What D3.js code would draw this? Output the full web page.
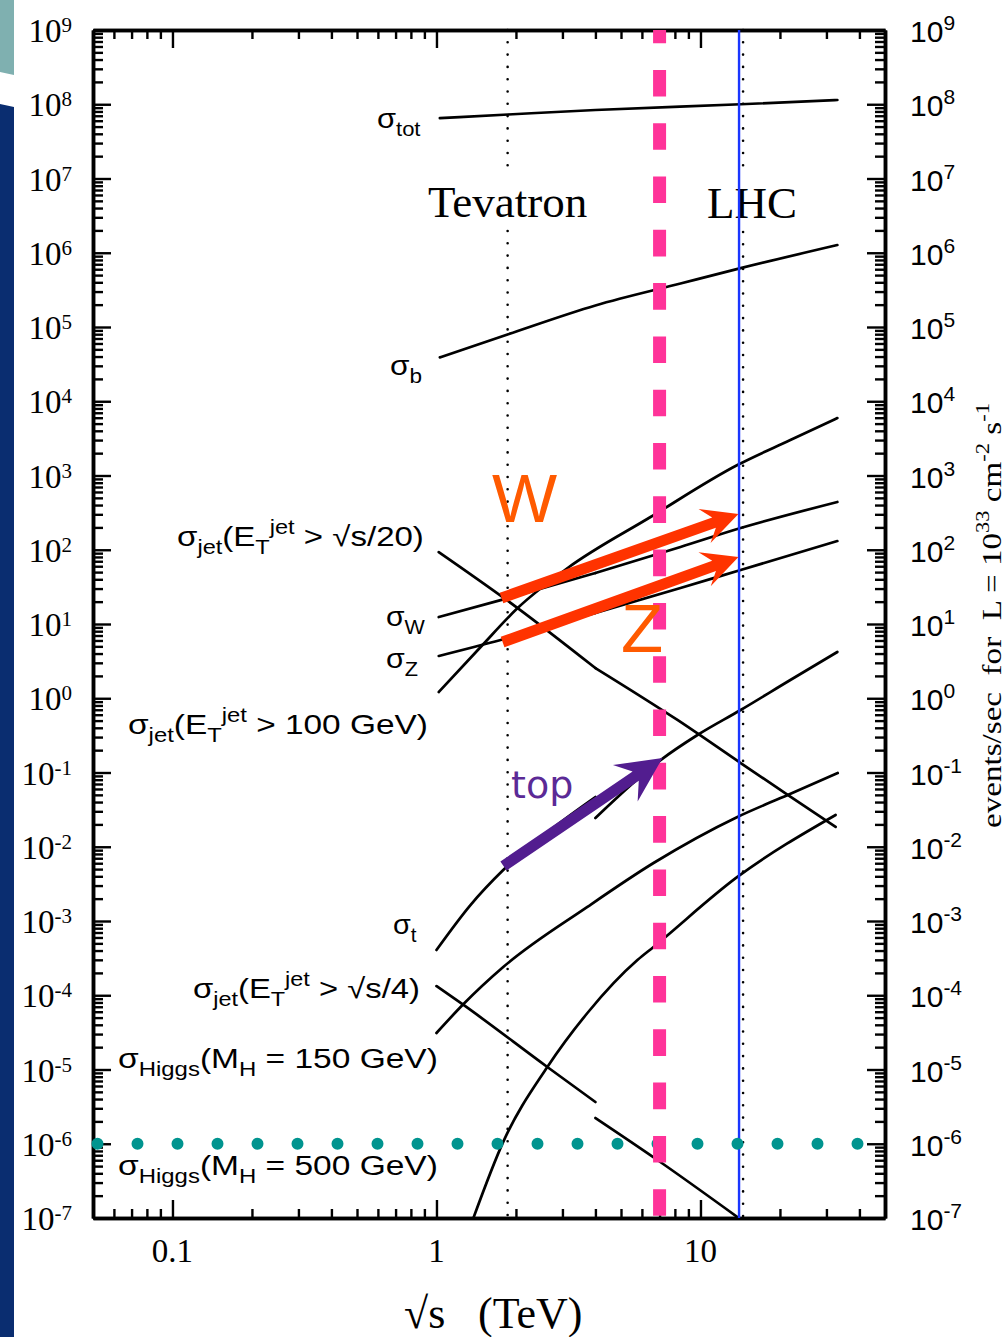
<!DOCTYPE html>
<html><head><meta charset="utf-8">
<script src="https://cdn.jsdelivr.net/npm/d3@7"></script>
<style>
html,body{margin:0;padding:0;background:#fff;}
svg{display:block;}
text{white-space:pre;}
</style></head><body>
<svg id="c" width="1008" height="1337"></svg>
<script>
// ---------------- DATA (sqrt(s) in TeV, sigma in nb) ----------------
const xDomain = [0.05, 50];
const yDomain = [1e-7, 1e9];
const yExponents = d3.range(-7, 10);
const xMajorTicks = [0.1, 1, 10];
const xTickLabels = ["0.1", "1", "10"];

const sTot = [1.03, 1.87, 4, 14.2, 33];
const sigTot = [6.5e7, 7.28e7, 8.37e7, 1.0e8, 1.14e8];

const sB = [1.03, 1.87, 4, 8.4, 14.2, 33];
const sigB = [3.9e4, 8.0e4, 1.95e5, 3.85e5, 6.2e5, 1.27e6];

const sJet20ppbar = [1.02, 2.03, 4];
const sigJet20ppbar = [93, 16.4, 2.55];
const sJet20pp = [4, 8.18, 14.2, 21.4, 32.5];
const sigJet20pp = [2.55, 0.51, 0.134, 0.050, 0.0185];

const sWppbar = [1.02, 1.75, 4];
const sigWppbar = [12.4, 21.0, 48.6];
const sWpp = [4, 8.4, 14.2, 33];
const sigWpp = [48.6, 109, 196, 440];

const sZppbar = [1.02, 1.75, 4];
const sigZppbar = [3.71, 6.09, 14.1];
const sZpp = [4, 8.4, 14.2, 33];
const sigZpp = [14.1, 30.5, 53.4, 131];

const sJet100 = [1.02, 1.47, 2.03, 3.14, 6.47, 13.8, 21.9, 33];
const sigJet100 = [1.21, 4.9, 16.4, 56.8, 276, 1384, 3006, 5943];

const sTopPpbar = [1.0, 1.345, 1.79, 2.7, 4];
const sigTopPpbar = [4.07e-4, 1.64e-3, 4.86e-3, 0.0168, 0.0468];
const sTopPp = [4, 7.06, 9.74, 14.2, 21.9, 33];
const sigTopPp = [0.0244, 0.147, 0.32, 0.695, 1.76, 4.2];

const sJet4ppbar = [1.0, 1.266, 2.63, 4];
const sigJet4ppbar = [1.33e-4, 7.4e-5, 1.08e-5, 3.65e-6];
const sJet4pp = [4, 6.87, 13.8];
const sigJet4pp = [2.22e-6, 6.04e-7, 1.03e-7];

const sH150 = [1.0, 1.266, 1.79, 3.73, 6.64, 13.8, 21.4, 33.1];
const sigH150 = [3.1e-5, 7.62e-5, 2.4e-4, 1.55e-3, 6.04e-3, 0.0252, 0.0498, 0.0984];

const sH500 = [1.38, 1.79, 2.63, 3.73, 5.77, 6.64, 13.8, 32.5];
const sigH500 = [1.0e-7, 1.06e-6, 1.08e-5, 5.77e-5, 2.98e-4, 4.47e-4, 3.92e-3, 0.0268];

// reference energies (TeV)
const tevatronEnergy = 1.86;
const lhcEnergy = 14.5;
const lhcDesign = 14;
const lhcRun = 7;
// 1 event/sec level at L=1e33 -> dotted line
const rateLine = 1e-6;
const rateLineX = [0.052, 39.6];

// arrows [sqrt(s), sigma]
const arrowW = [[1.763, 22.4], [13.93, 303]];
const arrowZ = [[1.78, 5.72], [13.93, 79.8]];
const arrowTop = [[1.794, 5.5e-3], [7.18, 0.157]];

// label texts
const labTot = [["σ","n"],["tot","sub"]];
const labB = [["σ","n"],["b","sub"]];
const labJet20 = [["σ","n"],["jet","sub"],["(E","n"],["T","sub"],["jet","sup"],[" > √s/20)","n"]];
const labW = [["σ","n"],["W","sub"]];
const labZ = [["σ","n"],["Z","sub"]];
const labJet100 = [["σ","n"],["jet","sub"],["(E","n"],["T","sub"],["jet","sup"],[" > 100 GeV)","n"]];
const labT = [["σ","n"],["t","sub"]];
const labJet4 = [["σ","n"],["jet","sub"],["(E","n"],["T","sub"],["jet","sup"],[" > √s/4)","n"]];
const labH150 = [["σ","n"],["Higgs","sub"],["(M","n"],["H","sub"],[" = 150 GeV)","n"]];
const labH500 = [["σ","n"],["Higgs","sub"],["(M","n"],["H","sub"],[" = 500 GeV)","n"]];
const rightTitle = [["events/sec  for  L = 10","n"],["33","sup"],[" cm","n"],["-2","sup"],[" s","n"],["-1","sup"]];

// ---------------- DRAW ----------------
const svg = d3.select("#c");
const X0 = 93, X1 = 885, Y0 = 1218, Y1 = 30;
const x = d3.scaleLog().domain(xDomain).range([X0, X1]);
const y = d3.scaleLog().domain(yDomain).range([Y0, Y1]);

// side decoration
svg.append("polygon").attr("points", "0,0 14,0 14,75 0,72").attr("fill", "#7fb0b0");
svg.append("polygon").attr("points", "0,104 14,107 14,1337 0,1337").attr("fill", "#0a2d70");

// ticks
const yMajor = yExponents.map(e => Math.pow(10, e));
const yMinor = [];
for (let e = -7; e < 9; e++) for (let m = 2; m <= 9; m++) yMinor.push(m * Math.pow(10, e));
const xMinor = [];
for (let e = -2; e < 2; e++) for (let m = 1; m <= 9; m++) {
  const v = m * Math.pow(10, e);
  if (v > 0.05 && v < 50 && m !== 1) xMinor.push(v);
}
const axes = svg.append("g");
function addAxis(gen, tr, vals, size) {
  const g = axes.append("g").attr("transform", tr)
    .call(gen.tickValues(vals).tickSize(-size).tickSizeOuter(0).tickFormat(() => ""));
  g.selectAll(".tick line").attr("stroke", "#000").attr("stroke-width", 2.4);
  g.select(".domain").attr("stroke", "#000").attr("stroke-width", 3.5);
  g.selectAll("text").remove();
}
addAxis(d3.axisLeft(y), `translate(${X0},0)`, yMinor, 10);
addAxis(d3.axisLeft(y), `translate(${X0},0)`, yMajor, 18);
addAxis(d3.axisRight(y), `translate(${X1},0)`, yMinor, 10);
addAxis(d3.axisRight(y), `translate(${X1},0)`, yMajor, 18);
addAxis(d3.axisBottom(x), `translate(0,${Y0})`, xMinor, 9);
addAxis(d3.axisBottom(x), `translate(0,${Y0})`, xMajorTicks, 18);
addAxis(d3.axisTop(x), `translate(0,${Y1})`, xMinor, 9);
addAxis(d3.axisTop(x), `translate(0,${Y1})`, xMajorTicks, 18);

const serif = "'Liberation Serif','Times New Roman',Times,serif";
const sans = "'Liberation Sans',Arial,Helvetica,sans-serif";

// left tick labels (serif)
yExponents.forEach(e => {
  const t = svg.append("text").attr("x", 72).attr("y", y(Math.pow(10, e)) + 12)
    .attr("text-anchor", "end").attr("font-family", serif).attr("fill", "#000");
  t.append("tspan").attr("font-size", 33).text("10");
  t.append("tspan").attr("font-size", 21).attr("dy", -10).text(String(e));
});
// right tick labels (sans)
yExponents.forEach(e => {
  const t = svg.append("text").attr("x", 910).attr("y", y(Math.pow(10, e)) + 12)
    .attr("font-family", sans).attr("fill", "#000");
  t.append("tspan").attr("font-size", 30).text("10");
  t.append("tspan").attr("font-size", 21).attr("dy", -12).text(String(e));
});
// x tick labels
xMajorTicks.forEach((v, i) => {
  svg.append("text").attr("x", x(v)).attr("y", 1262).attr("text-anchor", "middle")
    .attr("font-family", serif).attr("font-size", 33).text(xTickLabels[i]);
});
// x title
const xt = svg.append("text").attr("y", 1328).attr("font-family", serif).attr("font-size", 44);
xt.append("tspan").attr("x", 404).text("√s");
xt.append("tspan").attr("x", 478).text("(TeV)");

// rich text helper
function rich(parent, pieces, sizes, offs) {
  const t = parent.append("text").attr("x", 0).attr("y", 0);
  let cur = 0;
  pieces.forEach(([s, k]) => {
    const target = offs[k];
    t.append("tspan").attr("font-size", sizes[k]).attr("dy", target - cur).text(s);
    cur = target;
  });
  return t;
}
function fitLabel(pieces, left, right, base, family, sizes, offs) {
  const g = svg.append("g").attr("font-family", family).attr("fill", "#000");
  const t = rich(g, pieces, sizes, offs);
  const w = t.node().getBBox().width;
  const sx = (right - left) / w;
  g.attr("transform", `translate(${left},${base}) scale(${sx},1)`);
  return g;
}
const lsz = {n: 28, sub: 20, sup: 20}, loff = {n: 0, sub: 8, sup: -12};

// Tevatron / LHC labels
const tevLabel = svg.append("text").attr("x", x(tevatronEnergy)).attr("y", 217)
  .attr("text-anchor", "middle").attr("font-family", serif).attr("font-size", 45).text("Tevatron");
const lhcLabel = svg.append("text").attr("x", 752).attr("y", 218)
  .attr("text-anchor", "middle").attr("font-family", serif).attr("font-size", 45).text("LHC");

// dotted vertical lines with a gap for the label
function dotted(v, lab) {
  const bb = lab.node().getBBox();
  const segs = [[Y1, bb.y - 2], [bb.y + bb.height + 4, Y0]];
  segs.forEach(([a, b]) => svg.append("line").attr("x1", x(v)).attr("x2", x(v)).attr("y1", a).attr("y2", b)
    .attr("stroke", "#000").attr("stroke-width", 2.6).attr("stroke-linecap", "round")
    .attr("stroke-dasharray", "0 12.3"));
}
dotted(tevatronEnergy, tevLabel);
dotted(lhcEnergy, lhcLabel);

// curves
const line = d3.line().x(d => x(d[0])).y(d => y(d[1])).curve(d3.curveMonotoneX);
const curves = [
  [sTot, sigTot], [sB, sigB], [sJet20ppbar, sigJet20ppbar], [sJet20pp, sigJet20pp],
  [sWppbar, sigWppbar], [sWpp, sigWpp], [sZppbar, sigZppbar], [sZpp, sigZpp],
  [sJet100, sigJet100], [sTopPpbar, sigTopPpbar], [sTopPp, sigTopPp],
  [sJet4ppbar, sigJet4ppbar], [sJet4pp, sigJet4pp], [sH150, sigH150], [sH500, sigH500]
];
svg.append("clipPath").attr("id", "pc").append("rect")
  .attr("x", X0).attr("y", Y1).attr("width", X1 - X0).attr("height", Y0 - Y1);
const cg = svg.append("g").attr("clip-path", "url(#pc)");
curves.forEach(([xs, ys]) => {
  cg.append("path").attr("d", line(d3.zip(xs, ys))).attr("fill", "none")
    .attr("stroke", "#000").attr("stroke-width", 2.7).attr("stroke-linecap", "round");
});

// blue LHC line
svg.append("line").attr("x1", x(lhcDesign)).attr("x2", x(lhcDesign)).attr("y1", Y1).attr("y2", Y0)
  .attr("stroke", "#1a36ff").attr("stroke-width", 2.4);

// teal dotted rate line
svg.append("line").attr("x1", x(rateLineX[0])).attr("x2", x(rateLineX[1]))
  .attr("y1", y(rateLine)).attr("y2", y(rateLine))
  .attr("stroke", "#00948f").attr("stroke-width", 12).attr("stroke-linecap", "round")
  .attr("stroke-dasharray", "0 40");

// magenta dashed 7 TeV line
svg.append("line").attr("x1", x(lhcRun)).attr("x2", x(lhcRun)).attr("y1", Y1).attr("y2", Y0)
  .attr("stroke", "#ff3399").attr("stroke-width", 13)
  .attr("stroke-dasharray", "26.6 26.7").attr("stroke-dashoffset", 13.4);

// arrows
function arrow(pts, shaftW, headL, headW, color) {
  const p0 = [x(pts[0][0]), y(pts[0][1])], p1 = [x(pts[1][0]), y(pts[1][1])];
  const dx = p1[0] - p0[0], dy = p1[1] - p0[1], len = Math.hypot(dx, dy);
  const ux = dx / len, uy = dy / len, nx = -uy, ny = ux, hw = shaftW / 2;
  const nb = headL * 0.72;
  const bx = p1[0] - ux * nb, by = p1[1] - uy * nb;
  const hx = p1[0] - ux * headL, hy = p1[1] - uy * headL;
  const poly = [
    [p0[0] + nx * hw, p0[1] + ny * hw], [bx + nx * hw, by + ny * hw],
    [hx + nx * headW, hy + ny * headW], p1,
    [hx - nx * headW, hy - ny * headW], [bx - nx * hw, by - ny * hw],
    [p0[0] - nx * hw, p0[1] - ny * hw]
  ];
  svg.append("polygon").attr("points", poly.map(p => p.join(",")).join(" ")).attr("fill", color);
}
arrow(arrowW, 11, 36, 18, "#ff3300");
arrow(arrowZ, 11, 36, 18, "#ff3300");
arrow(arrowTop, 11, 45, 22, "#521d8f");

// W, Z, top annotations
svg.append("text").attr("x", 492).attr("y", 522).attr("font-family", sans).attr("font-size", 69)
  .attr("fill", "#ff5a00").text("W");
svg.append("text").attr("x", 621).attr("y", 652).attr("font-family", sans).attr("font-size", 69)
  .attr("fill", "#ff5a00").text("Z");
svg.append("text").attr("x", 511).attr("y", 798).attr("font-family", "'DejaVu Sans',sans-serif").attr("font-size", 38)
  .attr("fill", "#5b2a96").text("top");

// curve labels
fitLabel(labTot, 377, 421, 128, sans, lsz, loff);
fitLabel(labB, 390, 422, 375, sans, lsz, loff);
fitLabel(labJet20, 177, 424, 546, sans, lsz, loff);
fitLabel(labW, 386, 425, 626, sans, lsz, loff);
fitLabel(labZ, 386, 418, 668, sans, lsz, loff);
fitLabel(labJet100, 128, 428, 734, sans, lsz, loff);
fitLabel(labT, 393, 417, 934, sans, lsz, loff);
fitLabel(labJet4, 193, 420, 998, sans, lsz, loff);
fitLabel(labH150, 118, 438, 1068, sans, lsz, loff);
fitLabel(labH500, 118, 438, 1175, sans, lsz, loff);

// right axis title (rotated)
const rg = svg.append("g").attr("font-family", serif).attr("fill", "#000");
const rt = rich(rg, rightTitle, {n: 28, sup: 19}, {n: 0, sup: -12});
const rw = rt.node().getBBox().width;
const rs = 425 / rw;
rg.attr("transform", `translate(1001,828) rotate(-90) scale(${rs},1)`);
</script>
</body></html>
